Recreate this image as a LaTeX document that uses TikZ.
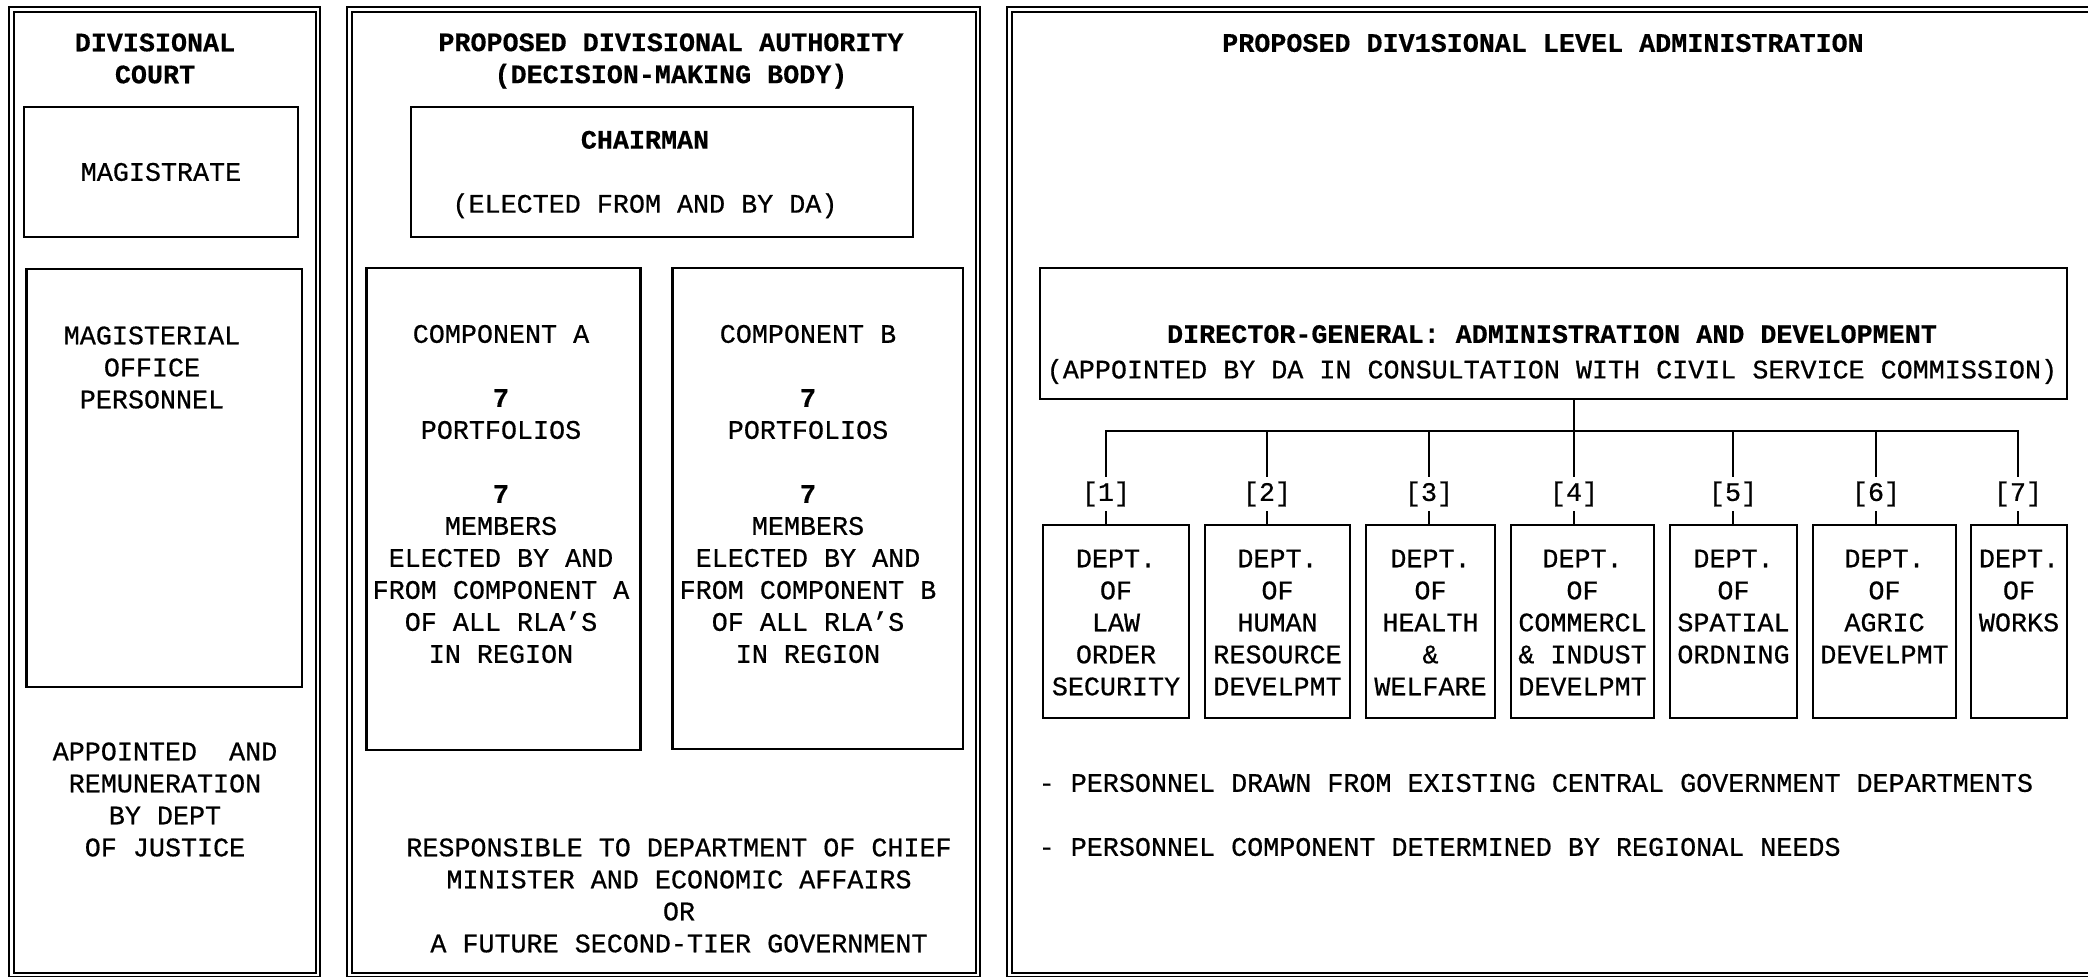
\documentclass[tikz,border=0pt]{standalone}
\usepackage{fontspec}
\setmainfont{Liberation Mono}[UprightFeatures={FakeBold=0.6},BoldFeatures={FakeBold=0.4}]
\usetikzlibrary{positioning,fit}
\newcommand\tsz{\fontsize{7.6}{9.1}\selectfont}
\tikzset{
  panel/.style={draw,double,line width=0.5pt,double distance=0.75pt},
  box/.style={draw,line width=0.6pt,inner sep=0pt},
  txt/.style={align=center,inner sep=0pt},
  head/.style={txt,font=\tsz\bfseries},
  link/.style={line width=0.45pt},
}
\begin{document}
\begin{tikzpicture}[x=0.01cm,y=-0.01cm,font=\tsz]
 \useasboundingbox (0,0) rectangle (2088,977);
 % the three panels
 \draw[panel] (11.5,9.5) rectangle (318,975);
 \draw[panel] (349.5,9.5) rectangle (978,975);
 \draw[panel] (1009.5,9.5) rectangle (2100,975);
 % divisional court
 \node[head] (court) at (155,58.5) {DIVISIONAL\\COURT};
 \node[box,fit={(24,107) (298,237)},label=center:MAGISTRATE] (mag) {};
 \node[box,fit={(26.5,269) (302,687)}] (office) {};
 \node[txt] (officet) at (152,367.5) {MAGISTERIAL\\OFFICE\\PERSONNEL};
 \node[txt] (appoint) at (165,799.5) {APPOINTED~ AND\\REMUNERATION\\BY DEPT\\OF JUSTICE};
 % divisional authority
 \node[head] (auth) at (671,61) {PROPOSED DIVISIONAL AUTHORITY\\(DECISION-MAKING BODY)};
 \node[box,fit={(411,107) (913,237)}] (chair) {};
 \node[txt] (chairt) at (645,174.5) {\textbf{CHAIRMAN}\\[9.1pt](ELECTED FROM AND BY DA)};
 \node[box,fit={(366.5,268) (640.5,750)}] (compa) {};
 \node[txt] (compat) at (501,494) {COMPONENT A\\[9.1pt]\textbf{7}\\PORTFOLIOS\\[9.1pt]\textbf{7}\\MEMBERS\\ELECTED BY AND\\FROM COMPONENT A\\OF ALL RLA'S\\IN REGION};
 \node[box,fit={(672.5,268) (963,749)}] (compb) {};
 \node[txt] (compbt) at (808,494) {COMPONENT B\\[9.1pt]\textbf{7}\\PORTFOLIOS\\[9.1pt]\textbf{7}\\MEMBERS\\ELECTED BY AND\\FROM COMPONENT B\\OF ALL RLA'S\\IN REGION};
 \node[txt] (resp) at (679,895.5) {RESPONSIBLE TO DEPARTMENT OF CHIEF\\MINISTER AND ECONOMIC AFFAIRS\\OR\\A FUTURE SECOND-TIER GOVERNMENT};
 % divisional level administration
 \node[head] (admin) at (1543,43) {PROPOSED DIV1SIONAL LEVEL ADMINISTRATION};
 \node[box,fit={(1040,268) (2067,399)}] (dg) {};
 \node[txt] (dgt) at (1552,354.5) {\textbf{DIRECTOR-GENERAL: ADMINISTRATION AND DEVELOPMENT}\\[1pt](APPOINTED BY DA IN CONSULTATION WITH CIVIL SERVICE COMMISSION)};
 \foreach \i/\xa/\xb/\xl/\dtext in {
   1/1043/1189/1106/{DEPT.\\OF\\LAW\\ORDER\\SECURITY},
   2/1205/1350/1267/{DEPT.\\OF\\HUMAN\\RESOURCE\\DEVELPMT},
   3/1366/1495/1429/{DEPT.\\OF\\HEALTH\\\&\\WELFARE},
   4/1511/1654/1574/{DEPT.\\OF\\COMMERCL\\\& INDUST\\DEVELPMT},
   5/1670/1797/1733/{DEPT.\\OF\\SPATIAL\\ORDNING},
   6/1813/1956/1876/{DEPT.\\OF\\AGRIC\\DEVELPMT},
   7/1971/2067/2018/{DEPT.\\OF\\WORKS}}{
   \node[box,fit={(\xa,525) (\xb,718)}] (d\i) {};
   \node[txt,below=0.25cm of d\i.north] (d\i t) {\dtext};
   \node[txt,minimum height=0.33cm] (l\i) at (\xl,494) {[\i]};
   \draw[link] (l\i.south) -- (l\i.south |- d\i.north);
 }
 \coordinate (bus) at (1574,431);
 \draw[link] (dg.south -| bus) -- (bus);
 \draw[link] (l1.north) |- (bus) -| (l7.north);
 \foreach \i in {2,...,6} \draw[link] (l\i.north) -- (l\i.north |- bus);
 \node[txt,anchor=west] (note1) at (1038,783) {- PERSONNEL DRAWN FROM EXISTING CENTRAL GOVERNMENT DEPARTMENTS};
 \node[txt,anchor=west] (note2) at (1038,847) {- PERSONNEL COMPONENT DETERMINED BY REGIONAL NEEDS};
\end{tikzpicture}
\end{document}
